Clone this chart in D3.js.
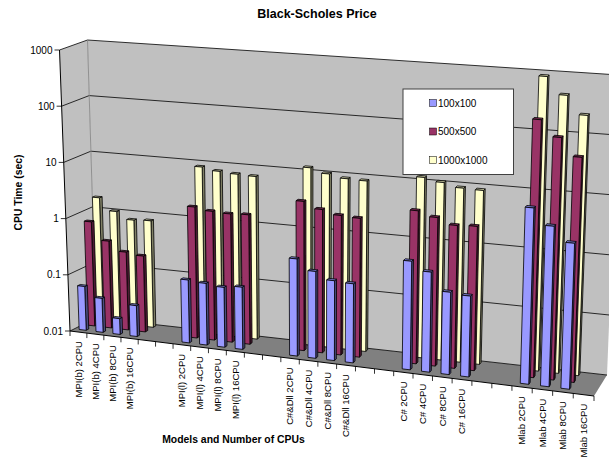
<!DOCTYPE html>
<html>
<head>
<meta charset="utf-8">
<style>
html,body{margin:0;padding:0;background:#fff;overflow:hidden}
svg{display:block}
text{font-family:"Liberation Sans",Arial,sans-serif;fill:#000}
</style>
<script src="https://d3js.org/d3.v7.min.js"></script>
</head>
<body>
<svg id="chart" width="609" height="460"></svg>
<script>
// Benchmark timings: one row of columns per matrix size, blank slots separate the groups.
const categories = [
  "MPI(b) 2CPU","MPI(b) 4CPU","MPI(b) 8CPU","MPI(b) 16CPU","","",
  "MPI(l) 2CPU","MPI(l) 4CPU","MPI(l) 8CPU","MPI(l) 16CPU","","",
  "C#&Dll 2CPU","C#&Dll 4CPU","C#&Dll 8CPU","C#&Dll 16CPU","","",
  "C# 2CPU","C# 4CPU","C# 8CPU","C# 16CPU","","",
  "Mlab 2CPU","Mlab 4CPU","Mlab 8CPU","Mlab 16CPU"
];
const seriesNames = ["100x100","500x500","1000x1000"];
const size100 = [
  0.06,0.04,0.019,0.035,null,null,
  0.126,0.119,0.11,0.12,null,null,
  0.47,0.31,0.233,0.224,null,null,
  0.69,0.49,0.243,0.228,null,null,
  8.6,4.6,2.6,null
];
const size500 = [
  0.72,0.35,0.24,0.22,null,null,
  2,1.8,1.74,1.8,null,null,
  3.8,2.95,2.5,2.4,null,null,
  4,3.3,2.6,2.7,null,null,
  205,110,55,null
];
const size1000 = [
  1.65,1,0.75,0.78,null,null,
  8.5,7.6,7.2,7,null,null,
  12,10,8.8,8.6,null,null,
  12,10.5,9,8.8,null,null,
  880,450,220,null
];
const valueTicks = [0.01,0.1,1,10,100,1000];
const tickLabels = ["0.01","0.1","1","10","100","1000"];
const faceColors = [
  {front:"#9999ff",side:"#4d4d80",top:"#7a7acc"},
  {front:"#993366",side:"#4d1a33",top:"#7a2952"},
  {front:"#ffffcc",side:"#808066",top:"#cccca3"}
];

// Corners of the chart box on screen.
const box = {
  frontLeftBottom:[70,331], frontLeftTop:[59.5,50],
  frontRightBottom:[594,396], frontRightTop:[605.5,92],
  backLeftBottom:[96,318], backLeftTop:[87.5,40],
  backRightBottom:[607,375], backRightTop:[619,75]
};
const perspective = 1.114;

const x = d3.scaleBand().domain(d3.range(categories.length)).range([0,1]).paddingInner(0.58).paddingOuter(0.29);
const y = d3.scaleLog().domain([0.01,1000]).range([0,1]);
const depth = d3.scaleBand().domain(seriesNames).range([0,1.09]).paddingInner(0.7).paddingOuter(0.5);

const lerp = (a,b,t)=>[a[0]+(b[0]-a[0])*t,a[1]+(b[1]-a[1])*t];
// Maps category position, value position and depth to a point on screen.
function project(u,v,d){
  const w = u/(u+perspective*(1-u));
  const f = lerp(lerp(box.frontLeftBottom,box.frontRightBottom,w),lerp(box.frontLeftTop,box.frontRightTop,w),v);
  const b = lerp(lerp(box.backLeftBottom,box.backRightBottom,w),lerp(box.backLeftTop,box.backRightTop,w),v);
  return lerp(f,b,d);
}

const svg = d3.select("#chart");
const line = d3.line();
const poly = pts => line(pts)+"Z";

// Walls and floor
const walls = svg.append("g");
walls.append("path").attr("fill","#c0c0c0").attr("d",poly([project(0,0,0),project(0,1,0),project(0,1,1),project(0,0,1)]));
walls.append("path").attr("fill","#c0c0c0").attr("d",poly([project(0,0,1),project(0,1,1),project(1,1,1),project(1,0,1)]));
walls.append("path").attr("fill","#808080").attr("d",poly([project(0,0,0),project(0,0,1),project(1,0,1),project(1,0,0)]));

// Gridlines run along the left wall and across the back wall
const grid = svg.append("g").attr("fill","none").attr("stroke","#000").attr("stroke-width",0.8);
valueTicks.forEach(t=>{
  const v = y(t);
  grid.append("path").attr("d",line([project(0,v,0),project(0,v,1),project(1,v,1)]));
});
svg.append("path").attr("fill","none").attr("stroke","#808080").attr("stroke-width",0.8)
  .attr("d",line([project(0,0,1),project(0,1,1)]));

// Vertical axis
const axis = svg.append("g");
axis.append("path").attr("fill","none").attr("stroke","#000").attr("stroke-width",1)
  .attr("d",line([project(0,0,0),project(0,1,0)]));
valueTicks.forEach((t,i)=>{
  const p = project(0,y(t),0);
  axis.append("line").attr("x1",p[0]-5).attr("x2",p[0]).attr("y1",p[1]).attr("y2",p[1]).attr("stroke","#000").attr("stroke-width",0.8);
  axis.append("text").attr("x",p[0]-7).attr("y",p[1]+3.5).attr("text-anchor","end").attr("font-size",10).text(tickLabels[i]);
});

// Category axis
axis.append("path").attr("fill","none").attr("stroke","#000").attr("stroke-width",1)
  .attr("d",line([project(0,0,0),project(1,0,0)]));
d3.range(categories.length+1).forEach(i=>{
  const p = project(i*x.step(),0,0);
  axis.append("line").attr("x1",p[0]).attr("x2",p[0]).attr("y1",p[1]).attr("y2",p[1]+5).attr("stroke","#000").attr("stroke-width",0.8);
});
categories.forEach((c,i)=>{
  if(!c) return;
  const p = project((i+0.5)*x.step(),0,0);
  axis.append("text").attr("text-anchor","end").attr("font-size",9.5)
    .attr("transform",`translate(${p[0]+3.4},${p[1]+9}) rotate(-90)`).text(c);
});

// Columns, farthest row first
const rows = [size100,size500,size1000];
const barGroup = svg.append("g").attr("stroke","#000").attr("stroke-width",0.8).attr("stroke-linejoin","round");
d3.range(2,-1,-1).forEach(s=>{
  const d0 = depth(seriesNames[s]), d1 = d0+depth.bandwidth();
  const colors = faceColors[s];
  rows[s].forEach((val,i)=>{
    if(val==null) return;
    const u0 = x(i), u1 = u0+x.bandwidth(), v = y(val);
    barGroup.append("path").attr("fill",colors.side).attr("d",poly([project(u1,0,d0),project(u1,v,d0),project(u1,v,d1),project(u1,0,d1)]));
    barGroup.append("path").attr("fill",colors.top).attr("d",poly([project(u0,v,d0),project(u1,v,d0),project(u1,v,d1),project(u0,v,d1)]));
    barGroup.append("path").attr("fill",colors.front).attr("d",poly([project(u0,0,d0),project(u0,v,d0),project(u1,v,d0),project(u1,0,d0)]));
  });
});

// Legend
const legend = svg.append("g");
legend.append("rect").attr("x",403).attr("y",89).attr("width",110.5).attr("height",85.5).attr("fill","#fff").attr("stroke","#404040").attr("stroke-width",1);
const legendRows = d3.scalePoint().domain(seriesNames).range([103,160]);
seriesNames.forEach((n,i)=>{
  const ly = legendRows(n);
  legend.append("rect").attr("x",429.5).attr("y",ly-3.5).attr("width",7).attr("height",7).attr("fill",faceColors[i].front).attr("stroke","#000").attr("stroke-width",0.5);
  legend.append("text").attr("x",438).attr("y",ly+3.5).attr("font-size",10).text(n);
});

// Titles
svg.append("text").attr("x",317).attr("y",17.5).attr("text-anchor","middle").attr("font-size",12.5).attr("font-weight","bold").text("Black-Scholes Price");
svg.append("text").attr("x",233.5).attr("y",443).attr("text-anchor","middle").attr("font-size",10.4).attr("font-weight","bold").text("Models and Number of CPUs");
svg.append("text").attr("transform","translate(21.5,192.5) rotate(-90)").attr("text-anchor","middle").attr("font-size",10.4).attr("font-weight","bold").text("CPU Time (sec)");
</script>
</body>
</html>
